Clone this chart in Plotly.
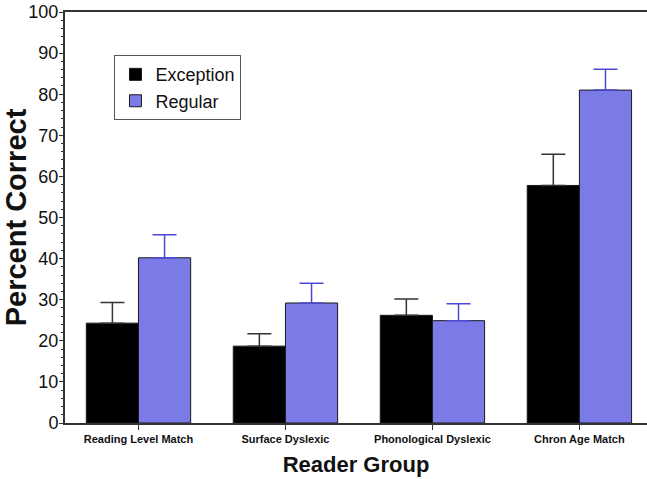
import plotly.graph_objects as go

categories = ["Reading Level Match", "Surface Dyslexic", "Phonological Dyslexic", "Chron Age Match"]
exception = [24.3, 18.7, 26.2, 57.8]
exception_err = [5.0, 3.0, 4.0, 7.6]
regular = [40.2, 29.2, 24.9, 81.0]
regular_err = [5.6, 4.8, 4.1, 5.1]

fig = go.Figure()
fig.add_trace(go.Bar(
    x=categories, y=exception, name="Exception",
    marker=dict(color="#000000", line=dict(color="#1a1a1a", width=1)),
    error_y=dict(type="data", array=exception_err, arrayminus=[0]*4, symmetric=False,
                 color="#333333", thickness=1.5, width=12),
))
fig.add_trace(go.Bar(
    x=categories, y=regular, name="Regular",
    marker=dict(color="#7b7be8", line=dict(color="#1a1a1a", width=1)),
    error_y=dict(type="data", array=regular_err, arrayminus=[0]*4, symmetric=False,
                 color="#4a4ad6", thickness=1.5, width=12),
))

fig.update_layout(
    width=647, height=479,
    margin=dict(l=65, r=0, t=12, b=56),
    paper_bgcolor="white", plot_bgcolor="white",
    barmode="group", bargap=0.29, bargroupgap=0,
    font=dict(family="Liberation Sans, Arial, sans-serif", color="#111111"),
    showlegend=True,
    legend=dict(x=0.085, y=0.895, xanchor="left", yanchor="top",
                bgcolor="white", bordercolor="#555555", borderwidth=1,
                font=dict(size=18), itemwidth=30),
    xaxis=dict(
        range=[-0.5, 3.46], showline=True, linecolor="#333333", linewidth=2,
        mirror=True, ticks="outside", ticklen=5, tickcolor="#333333",
        tickfont=dict(size=11, family="Liberation Sans, Arial, sans-serif", weight="bold"),
        title=dict(text="<b>Reader Group</b>", font=dict(size=22), standoff=12),
        showgrid=False, automargin=False,
    ),
    yaxis=dict(
        range=[0, 100], dtick=10, showline=True, linecolor="#333333", linewidth=2,
        ticks="outside", ticklen=4, tickcolor="#333333",
        minor=dict(dtick=2, ticks="outside", ticklen=2, tickcolor="#333333"),
        tickfont=dict(size=18), ticklabelstandoff=-3,
        title=dict(text="<b>Percent Correct</b>", font=dict(size=29), standoff=6),
        showgrid=False, zeroline=False, automargin=False,
    ),
)

fig.write_html("out.html", config={"displayModeBar": False},
               post_script="document.body.style.margin='0';")
